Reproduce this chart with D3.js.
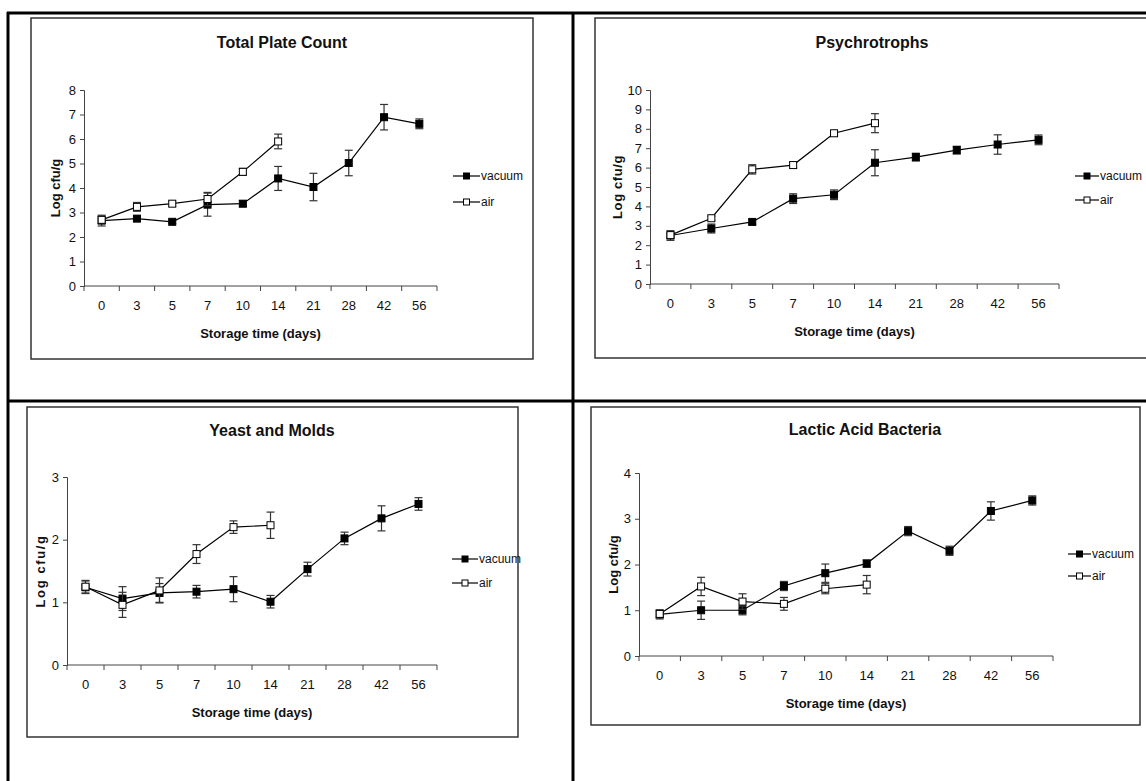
<!DOCTYPE html>
<html>
<head>
<meta charset="utf-8">
<script src="https://cdn.jsdelivr.net/npm/d3@7"></script>
<style>
  html, body { margin: 0; padding: 0; background: #fff; }
  svg { display: block; }
  text { font-family: "Liberation Sans", Arial, sans-serif; fill: #111; }
</style>
</head>
<body>
<svg id="chart" width="1146" height="781"></svg>
<script>
// ---------- data ----------
const days = ["0", "3", "5", "7", "10", "14", "21", "28", "42", "56"];
const seriesNames = ["vacuum", "air"];

const tpcTicks = [0, 1, 2, 3, 4, 5, 6, 7, 8];
const tpcVacuum = [2.67, 2.75, 2.62, 3.32, 3.36, 4.39, 4.04, 5.02, 6.89, 6.62];
const tpcVacuumErr = [0.22, 0.1, 0.07, 0.47, 0.12, 0.49, 0.56, 0.52, 0.52, 0.2];
const tpcAir = [2.7, 3.23, 3.36, 3.55, 4.66, 5.9];
const tpcAirErr = [0.15, 0.18, 0.1, 0.27, 0.14, 0.3];

const psyTicks = [0, 1, 2, 3, 4, 5, 6, 7, 8, 9, 10];
const psyVacuum = [2.5, 2.86, 3.2, 4.4, 4.6, 6.25, 6.54, 6.9, 7.19, 7.43];
const psyVacuumErr = [0.25, 0.23, 0.12, 0.25, 0.25, 0.67, 0.2, 0.2, 0.5, 0.25];
const psyAir = [2.52, 3.39, 5.91, 6.13, 7.77, 8.29];
const psyAirErr = [0.1, 0.1, 0.24, 0.15, 0.1, 0.49];

const ymTicks = [0, 1, 2, 3];
const ymVacuum = [1.24, 1.06, 1.15, 1.17, 1.21, 1.01, 1.53, 2.02, 2.34, 2.57];
const ymVacuumErr = [0.1, 0.19, 0.15, 0.1, 0.2, 0.1, 0.11, 0.1, 0.2, 0.1];
const ymAir = [1.25, 0.96, 1.19, 1.77, 2.2, 2.23];
const ymAirErr = [0.1, 0.2, 0.2, 0.15, 0.1, 0.21];

const labTicks = [0, 1, 2, 3, 4];
const labVacuum = [0.91, 1.0, 1.0, 1.53, 1.81, 2.02, 2.73, 2.3, 3.17, 3.4];
const labVacuumErr = [0.1, 0.2, 0.1, 0.1, 0.2, 0.08, 0.1, 0.1, 0.2, 0.1];
const labAir = [0.92, 1.52, 1.19, 1.14, 1.47, 1.56];
const labAirErr = [0.08, 0.2, 0.17, 0.14, 0.11, 0.2];

// ---------- layout ----------
const panels = [
  { title: "Total Plate Count", ylab: "Log cfu/g", ls: 0, ticks: tpcTicks,
    vac: tpcVacuum, vacErr: tpcVacuumErr, air: tpcAir, airErr: tpcAirErr,
    box: [31, 18, 533, 359], x0: 84, x1: 437, yTop: 90, yBot: 286, titleX: 282, titleY: 48,
    yTitleX: 60, leg: [453, 480, 176, 202] },
  { title: "Psychrotrophs", ylab: "Log cfu/g", ls: 0.6, ticks: psyTicks,
    vac: psyVacuum, vacErr: psyVacuumErr, air: psyAir, airErr: psyAirErr,
    box: [595, 18, 1170, 358], x0: 650, x1: 1059, yTop: 90, yBot: 284, titleX: 872, titleY: 48,
    yTitleX: 622, leg: [1075, 1099, 176, 200] },
  { title: "Yeast and Molds", ylab: "Log cfu/g", ls: 1.6, ticks: ymTicks,
    vac: ymVacuum, vacErr: ymVacuumErr, air: ymAir, airErr: ymAirErr,
    box: [27, 407, 518, 737], x0: 67, x1: 437, yTop: 477, yBot: 665, titleX: 272, titleY: 436,
    yTitleX: 45, leg: [452, 478, 559, 583] },
  { title: "Lactic Acid Bacteria", ylab: "Log cfu/g", ls: 0, ticks: labTicks,
    vac: labVacuum, vacErr: labVacuumErr, air: labAir, airErr: labAirErr,
    box: [591, 407, 1140, 725], x0: 639, x1: 1053, yTop: 473, yBot: 656, titleX: 865, titleY: 435,
    yTitleX: 618, leg: [1068, 1091, 554, 576] }
];

const svg = d3.select("#chart");
const FONT = '"Liberation Sans", Arial, sans-serif';

// outer table borders
const frame = svg.append("g").attr("stroke", "#000").attr("stroke-width", 3);
frame.append("line").attr("x1", 7).attr("x2", 1146).attr("y1", 13).attr("y2", 13);
frame.append("line").attr("x1", 8).attr("x2", 8).attr("y1", 12).attr("y2", 781);
frame.append("line").attr("x1", 573).attr("x2", 573).attr("y1", 12).attr("y2", 781);
frame.append("line").attr("x1", 8).attr("x2", 1146).attr("y1", 401).attr("y2", 401);

panels.forEach(p => {
  const g = svg.append("g");
  const [bx0, by0, bx1, by1] = p.box;
  g.append("rect").attr("x", bx0).attr("y", by0).attr("width", bx1 - bx0).attr("height", by1 - by0)
    .attr("fill", "none").attr("stroke", "#333").attr("stroke-width", 1.5);

  const x = d3.scaleBand().domain(days).range([p.x0, p.x1]).paddingInner(0).paddingOuter(0);
  const y = d3.scaleLinear().domain([0, d3.max(p.ticks)]).range([p.yBot, p.yTop]);
  const cx = d => x(d) + x.bandwidth() / 2;

  // y axis
  const yAxis = d3.axisLeft(y).tickValues(p.ticks).tickSize(4).tickPadding(4).tickFormat(d3.format("d"));
  const ya = g.append("g").attr("transform", `translate(${p.x0},0)`).call(yAxis);
  ya.select(".domain").attr("stroke", "#444");
  ya.selectAll(".tick line").attr("stroke", "#444");
  ya.selectAll(".tick text").attr("font-size", 13).attr("fill", "#111").style("font-family", FONT);

  // x axis: labels centered in bands, ticks on band boundaries
  const xAxis = d3.axisBottom(x).tickSize(0).tickPadding(15);
  const xa = g.append("g").attr("transform", `translate(0,${p.yBot})`).call(xAxis);
  xa.select(".domain").remove();
  xa.selectAll(".tick text").attr("font-size", 13).attr("fill", "#111").style("font-family", FONT);
  g.append("line").attr("x1", p.x0).attr("x2", p.x1).attr("y1", p.yBot).attr("y2", p.yBot).attr("stroke", "#444");
  const bounds = days.map(d => x(d)).concat([p.x1]);
  g.selectAll("line.xt").data(bounds).enter().append("line").attr("class", "xt")
    .attr("x1", d => d).attr("x2", d => d).attr("y1", p.yBot).attr("y2", p.yBot + 5).attr("stroke", "#444");

  // titles
  g.append("text").attr("x", p.titleX).attr("y", p.titleY).attr("text-anchor", "middle")
    .attr("font-size", 16).attr("font-weight", "bold").text(p.title);
  g.append("text").attr("x", (p.x0 + p.x1) / 2).attr("y", p.yBot + 52).attr("text-anchor", "middle")
    .attr("font-size", 13).attr("font-weight", "bold").text("Storage time (days)");
  g.append("text").attr("transform", `translate(${p.yTitleX},${(p.yTop + p.yBot) / 2}) rotate(-90)`)
    .attr("text-anchor", "middle").attr("font-size", 13).attr("font-weight", "bold")
    .attr("letter-spacing", p.ls).text(p.ylab);

  const line = d3.line().x((d, i) => cx(days[i])).y(d => y(d));
  const series = [
    { vals: p.vac, err: p.vacErr, fill: "#000" },
    { vals: p.air, err: p.airErr, fill: "#fff" }
  ];
  series.forEach(s => {
    g.append("path").datum(s.vals).attr("d", line).attr("fill", "none").attr("stroke", "#000").attr("stroke-width", 1.2);
    const eb = g.append("g").attr("stroke", "#333").attr("stroke-width", 1.2);
    s.vals.forEach((v, i) => {
      const xx = cx(days[i]);
      eb.append("line").attr("x1", xx).attr("x2", xx).attr("y1", y(v - s.err[i])).attr("y2", y(v + s.err[i]));
      eb.append("line").attr("x1", xx - 4).attr("x2", xx + 4).attr("y1", y(v - s.err[i])).attr("y2", y(v - s.err[i]));
      eb.append("line").attr("x1", xx - 4).attr("x2", xx + 4).attr("y1", y(v + s.err[i])).attr("y2", y(v + s.err[i]));
    });
    g.selectAll(null).data(s.vals).enter().append("rect")
      .attr("x", (d, i) => cx(days[i]) - 3.5).attr("y", d => y(d) - 3.5)
      .attr("width", 7).attr("height", 7).attr("fill", s.fill).attr("stroke", "#000").attr("stroke-width", 1);
  });

  // legend
  const [lx0, lx1, ly0, ly1] = p.leg;
  [[seriesNames[0], ly0, "#000"], [seriesNames[1], ly1, "#fff"]].forEach(([name, ly, fill]) => {
    g.append("line").attr("x1", lx0).attr("x2", lx1).attr("y1", ly).attr("y2", ly).attr("stroke", "#000").attr("stroke-width", 1.2);
    g.append("rect").attr("x", (lx0 + lx1) / 2 - 3).attr("y", ly - 3).attr("width", 6).attr("height", 6)
      .attr("fill", fill).attr("stroke", "#000");
    g.append("text").attr("x", lx1 + 1).attr("y", ly + 4).attr("font-size", 12).text(name);
  });
});
</script>
</body>
</html>
